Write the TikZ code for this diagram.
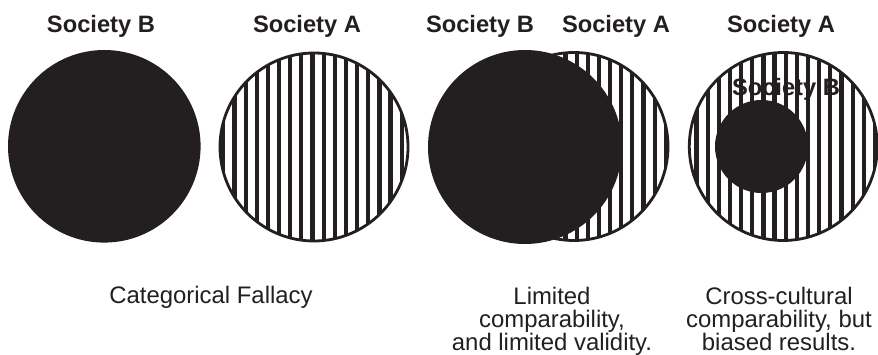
\documentclass[tikz,border=0pt]{standalone}
\usepackage{fontspec}
\setmainfont{Liberation Sans}
\definecolor{ink}{HTML}{231F20}
\begin{document}
\begin{tikzpicture}[x=1pt,y=-1pt,
  solid disc/.style={circle,inner sep=0pt,fill=ink,draw=none,minimum size=#1},
  striped disc/.style={circle,inner sep=0pt,draw=ink,line width=2.8pt,fill=white,minimum size=#1},
  stripes/.style={path picture={
      \foreach \k in {-9,...,9}{
        \draw[ink,line width=4.2pt]
          ([xshift=\k*11.15pt+#1]path picture bounding box.north) --
          ([xshift=\k*11.15pt+#1]path picture bounding box.south);}}},
  title/.style={text=ink,inner sep=0pt,anchor=base,font=\fontsize{23.7}{24}\selectfont\bfseries},
  caption/.style={text=ink,inner sep=0pt,anchor=base,align=center,font=\fontsize{23.9}{23}\selectfont}]
\useasboundingbox (0,0) rectangle (878,355);
\fill[white] (0,0) rectangle (878,355);

% panel 1
\node[solid disc=192.6pt] (b1) at (104.3,146.3) {};
\node[striped disc=188pt,stripes=-1.5pt] (a1) at (314,147) {};
\node[title] (tb1) at (101,32.3) {Society B};
\node[title] (ta1) at (307,32.3) {Society A};
\node[caption] (c1) at (211,304) {Categorical Fallacy};

% panel 2
\node[striped disc=188pt,stripes=2.6pt] (a2) at (574,146.5) {};
\node[solid disc=194pt] (b2) at (525,147) {};
\node[title] (tb2) at (480,32.3) {Society B};
\node[title] (ta2) at (616,32.3) {Society A};
\node[caption] (c2) at (552,350) {Limited\\comparability,\\and limited validity.};

% panel 3
\node[striped disc=188pt,stripes=2.4pt] (a3) at (783.3,146.5) {};
\node[title] (ta3) at (781,32.3) {Society A};
\node[title] (tb3) at (786,96) {Society B};
\node[solid disc=93pt] (b3) at (761.5,146.5) {};
\node[caption] (c3) at (779,350) {Cross-cultural\\comparability, but\\biased results.};
\end{tikzpicture}
\end{document}
